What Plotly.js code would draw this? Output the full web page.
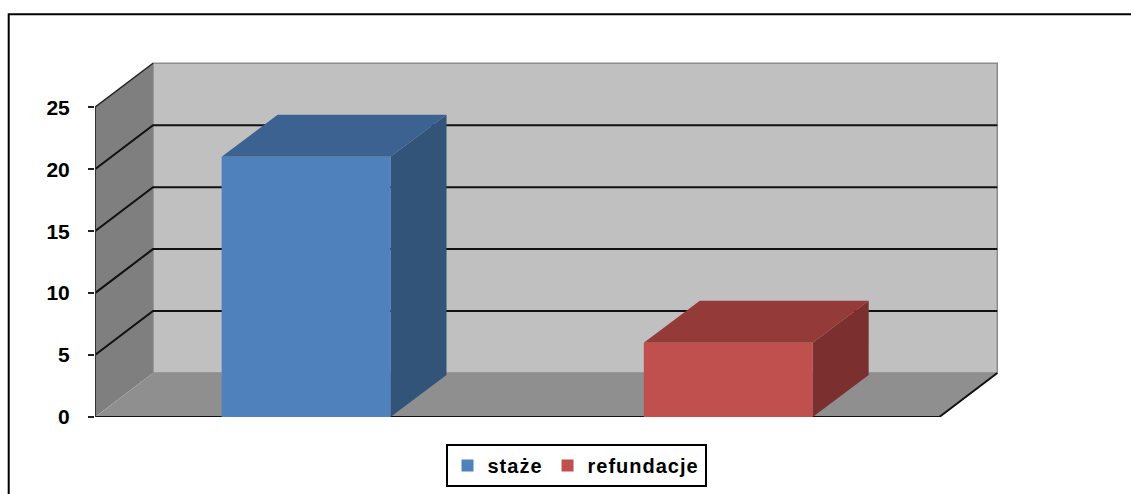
<!DOCTYPE html>
<html><head><meta charset="utf-8">
<script src="https://cdn.plot.ly/plotly-3.0.1.min.js"></script>
<style>html,body{margin:0;padding:0;background:#fff}
.legendtext{letter-spacing:1px}</style>
</head><body><div id="chart" style="width:1131px;height:494px"></div>
<script>
// ---- data ----
const categories = ["staże", "refundacje"];
const values = [21, 6];
const frontColors = ["#4f81bd", "#c0504d"];
const topColors = ["#3c6291", "#943b39"];
const sideColors = ["#335479", "#7b2f2e"];
const yTicks = [0, 5, 10, 15, 20, 25];

// ---- geometry ----
const W = 1131, H = 494, L = 95, R = 131, T = 55, B = 77;
const pw = W - L - R, ph = H - T - B;
const pxPerY = 12.39, pxPerX = 422.15;
const yMax = ph / pxPerY;
const xMin = -0.5, xMax = xMin + pw / pxPerX;
const wallDX = 58 / pxPerX, wallDY = 44 / pxPerY;
const barDX = 56 / pxPerX, barDY = 42 / pxPerY;
const barW = 0.4;
const xL = -0.5, xR = categories.length - 0.5;
const wallTop = yTicks[yTicks.length - 1];
const px2paperX = p => (p - L) / pw;
const px2paperY = p => (H - B - p) / ph;

function P(pts, close) {
  return 'M' + pts.map(p => p[0] + ',' + p[1]).join('L') + (close ? 'Z' : '');
}

const shapes = [];
// back wall
shapes.push({type:'rect', xref:'x', yref:'y', layer:'below',
  x0:xL+wallDX, x1:xR+wallDX, y0:wallDY, y1:wallTop+wallDY,
  fillcolor:'#c0c0c0', line:{color:'#8c8c8c', width:1.5}});
// side wall
shapes.push({type:'path', xref:'x', yref:'y', layer:'below',
  path:P([[xL,0],[xL+wallDX,wallDY],[xL+wallDX,wallTop+wallDY],[xL,wallTop]], true),
  fillcolor:'#7f7f7f', line:{width:0}});
// floor
shapes.push({type:'path', xref:'x', yref:'y', layer:'below',
  path:P([[xL,0],[xR,0],[xR+wallDX,wallDY],[xL+wallDX,wallDY]], true),
  fillcolor:'#8f8f8f', line:{width:0}});
// gridlines
yTicks.forEach(v => {
  if (v > 0 && v < wallTop) {
    shapes.push({type:'path', xref:'x', yref:'y', layer:'below',
      path:P([[xL,v],[xL+wallDX,v+wallDY],[xR+wallDX,v+wallDY]]),
      line:{color:'#111', width:2}});
  }
});
// side wall top edge
shapes.push({type:'path', xref:'x', yref:'y', layer:'below',
  path:P([[xL,wallTop],[xL+wallDX,wallTop+wallDY]]), line:{color:'#222', width:1.5}});
// floor edges
shapes.push({type:'path', xref:'x', yref:'y', layer:'below',
  path:P([[xL,0],[xR,0],[xR+wallDX,wallDY]]), line:{color:'#111', width:2}});
// y axis line
shapes.push({type:'path', xref:'x', yref:'y', layer:'below',
  path:P([[xL,0],[xL,wallTop]]), line:{color:'#333', width:2}});
// bar top & side faces
values.forEach((v, i) => {
  const x0 = i - barW/2, x1 = i + barW/2;
  shapes.push({type:'path', xref:'x', yref:'y', layer:'below',
    path:P([[x1,0],[x1,v],[x1+barDX,v+barDY],[x1+barDX,barDY]], true),
    fillcolor:sideColors[i], line:{width:0}});
  shapes.push({type:'path', xref:'x', yref:'y', layer:'below',
    path:P([[x0,v],[x1,v],[x1+barDX,v+barDY],[x0+barDX,v+barDY]], true),
    fillcolor:topColors[i], line:{width:0}});
});
// outer border (left + top)
shapes.push({type:'path', xref:'paper', yref:'paper', layer:'above',
  path:P([[px2paperX(8.7), px2paperY(H+5)],[px2paperX(8.7), px2paperY(14.3)],[px2paperX(W+5), px2paperY(14.3)]]),
  line:{color:'#000', width:2}});

const traces = categories.map((c, i) => ({
  type:'bar', x:[i], y:[values[i]], width:barW, name:c,
  marker:{color:frontColors[i], line:{width:0}}, hoverinfo:'skip'
}));

const layout = {
  width:W, height:H,
  margin:{l:L, r:R, t:T, b:B, pad:0, autoexpand:false},
  paper_bgcolor:'#fff', plot_bgcolor:'rgba(0,0,0,0)',
  barmode:'overlay', showlegend:true,
  font:{family:'Liberation Sans, Arial, sans-serif', color:'#000'},
  xaxis:{range:[xMin, xMax], visible:false, fixedrange:true, automargin:false},
  yaxis:{range:[0, yMax], tickvals:yTicks, ticktext:yTicks.map(String), automargin:false,
    ticks:'outside', ticklen:6, tickwidth:2, tickcolor:'#222',
    showgrid:false, zeroline:false, showline:false, ticklabelstandoff:14,
    tickfont:{size:21, weight:700, color:'#000'}},
  legend:{orientation:'h', x:px2paperX(576), xanchor:'center', y:px2paperY(444), yanchor:'top',
    bordercolor:'#000', borderwidth:2, bgcolor:'#fff', itemgap:24,
    font:{size:20, weight:700, color:'#000'}, traceorder:'normal'},
  shapes:shapes
};

Plotly.newPlot('chart', traces, layout, {displayModeBar:false, staticPlot:true});
</script>
</body></html>
